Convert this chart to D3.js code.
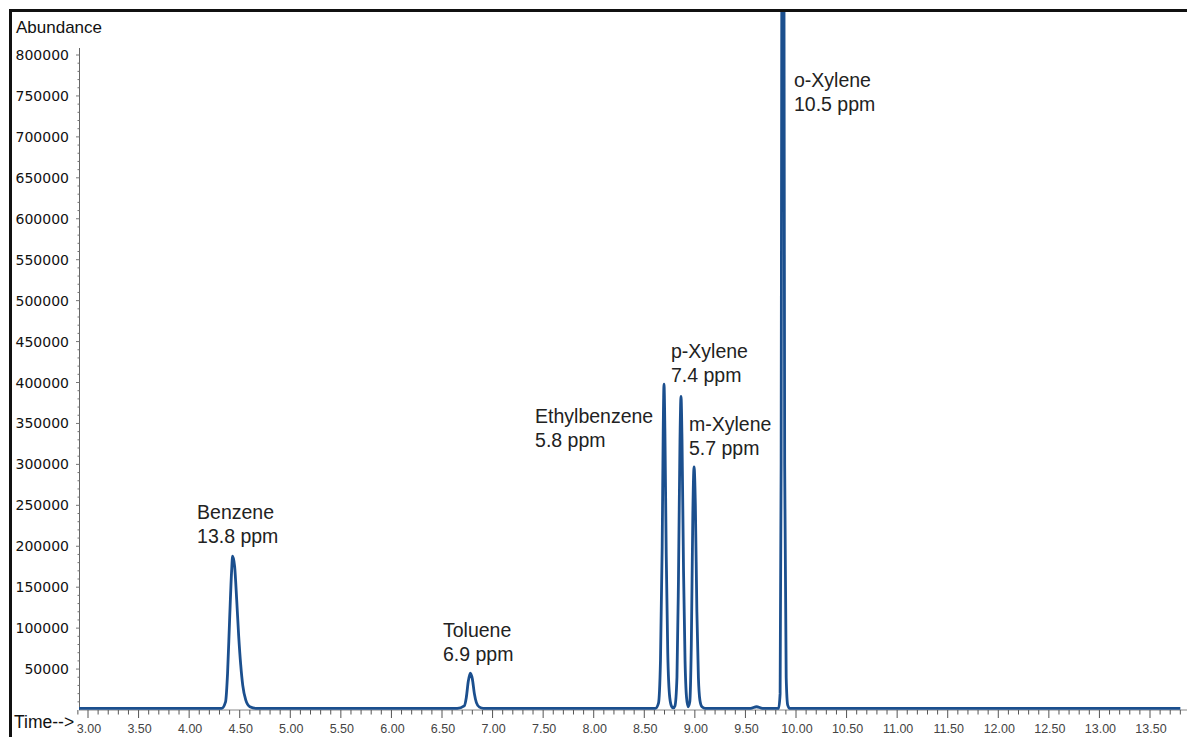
<!DOCTYPE html>
<html>
<head>
<meta charset="utf-8">
<script src="https://cdn.jsdelivr.net/npm/d3@7"></script>
<style>
  body { margin: 0; background: #fff; }
  svg { display: block; }
</style>
</head>
<body>
<script>
// chromatogram: retention time (min) and abundance
const times = [
  2.91, 4.00, 4.32, 4.36, 4.38, 4.40, 4.42, 4.43, 4.45, 4.47, 4.49, 4.51, 4.53, 4.56, 4.60, 4.66,
  6.65, 6.72, 6.74, 6.76, 6.78, 6.80, 6.82, 6.84, 6.87, 6.91,
  8.61, 8.64, 8.66, 8.677, 8.687, 8.695, 8.704, 8.717, 8.732, 8.752, 8.772, 8.787,
  8.803, 8.823, 8.838, 8.853, 8.863, 8.873, 8.888, 8.903, 8.918, 8.933,
  8.95, 8.965, 8.98, 8.992, 9.005, 9.02, 9.035, 9.05, 9.07, 9.105,
  9.55, 9.61, 9.67,
  9.828, 9.843, 9.853, 9.863, 9.870, 9.878, 9.888, 9.903, 9.918, 9.938,
  13.80
]
const abundance = [
  2000, 2000, 2000, 10000, 45000, 110000, 170000, 188000, 175000, 135000, 90000, 55000, 30000, 12000, 4000, 2000,
  2000, 5000, 15000, 35000, 45000, 38000, 20000, 9000, 3500, 2000,
  2000, 8000, 60000, 200000, 340000, 398000, 340000, 190000, 70000, 15000, 4000, 2500,
  5000, 40000, 160000, 330000, 383000, 330000, 170000, 60000, 15000, 4000,
  10000, 80000, 240000, 297000, 250000, 120000, 40000, 12000, 4000, 2000,
  2000, 4000, 2000,
  2000, 20000, 300000, 1200000, 1500000, 1200000, 300000, 40000, 6000, 2000,
  2000
]

// peak annotations
const peakNames = ["Benzene", "Toluene", "Ethylbenzene", "p-Xylene", "m-Xylene", "o-Xylene"]
const peakConc = ["13.8 ppm", "6.9 ppm", "5.8 ppm", "7.4 ppm", "5.7 ppm", "10.5 ppm"]
const labelTime = [4.078, 6.51, 7.42, 8.764, 8.942, 9.98]
const labelAbund = [233000, 89000, 350000, 430000, 341000, 761000]

const yTicks = d3.range(50000, 800001, 50000)
const xTicks = d3.range(3, 13.51, 0.5)

const W = 1187, H = 737
const svg = d3.select("body").append("svg")
    .attr("width", W)
    .attr("height", H)

const x = d3.scaleLinear().domain([3, 13.5]).range([88, 1150])
const y = d3.scaleLinear().domain([0, 800000]).range([710, 55])

svg.append("defs").append("clipPath").attr("id", "plot")
  .append("rect").attr("x", 79).attr("y", 12).attr("width", W - 79).attr("height", 700)

// x axis line (grey) and ticks
svg.append("line")
    .attr("x1", 79).attr("x2", W)
    .attr("y1", 710).attr("y2", 710)
    .attr("stroke", "#888").attr("stroke-width", 1)

const minor = d3.range(2.9, 13.91, 0.1).filter(t => Math.abs(t * 2 - Math.round(t * 2)) > 0.01)
svg.append("g").selectAll("line")
  .data(minor)
  .enter().append("line")
    .attr("x1", d => x(d)).attr("x2", d => x(d))
    .attr("y1", 710).attr("y2", 714.5)
    .attr("stroke", "#555")

svg.append("g").selectAll("line")
  .data(xTicks)
  .enter().append("line")
    .attr("x1", d => x(d)).attr("x2", d => x(d))
    .attr("y1", 710).attr("y2", 718)
    .attr("stroke", "#555")

svg.append("g").selectAll("text")
  .data(xTicks)
  .enter().append("text")
    .attr("x", d => x(d) + 1)
    .attr("y", 733)
    .attr("text-anchor", "middle")
    .attr("font-family", "Liberation Sans, Arial, sans-serif")
    .attr("font-size", 12.5)
    .attr("fill", "#444")
    .text(d => d.toFixed(2))

// y axis
svg.append("line")
    .attr("x1", 79.5).attr("x2", 79.5)
    .attr("y1", 48).attr("y2", 710)
    .attr("stroke", "#666")

svg.append("g").selectAll("line")
  .data(d3.range(10000, 800001, 10000))
  .enter().append("line")
    .attr("x1", d => d % 50000 == 0 ? 76 : 77.5).attr("x2", 79.5)
    .attr("y1", d => y(d)).attr("y2", d => y(d))
    .attr("stroke", "#777")

svg.append("g").selectAll("text")
  .data(yTicks)
  .enter().append("text")
    .attr("x", 69)
    .attr("y", d => y(d) + 5)
    .attr("text-anchor", "end")
    .attr("font-family", "DejaVu Sans, Verdana, sans-serif")
    .attr("font-size", 14)
    .attr("fill", "#111")
    .text(d => d)

svg.append("text")
    .attr("x", 16).attr("y", 33)
    .attr("font-family", "Liberation Sans, Arial, sans-serif")
    .attr("font-size", 17)
    .attr("fill", "#111")
    .text("Abundance")

svg.append("text")
    .attr("x", 14).attr("y", 728)
    .attr("font-family", "Liberation Sans, Arial, sans-serif")
    .attr("font-size", 17.5)
    .attr("fill", "#111")
    .text("Time-->")

// the trace
const pts = times.map((t, i) => [t, abundance[i]])
const line = d3.line()
    .x(d => x(d[0]))
    .y(d => y(d[1]))
    .curve(d3.curveMonotoneX)

svg.append("path")
    .datum(pts)
    .attr("clip-path", "url(#plot)")
    .attr("fill", "none")
    .attr("stroke", "#1b4f8e")
    .attr("stroke-width", 2.8)
    .attr("stroke-linejoin", "round")
    .attr("d", line)

// peak labels
const lab = svg.append("g")
    .attr("font-family", "Liberation Sans, Arial, sans-serif")
    .attr("font-size", 19.5)
    .attr("fill", "#222")
peakNames.forEach((n, i) => {
    const t = lab.append("text")
        .attr("x", x(labelTime[i]))
        .attr("y", y(labelAbund[i]))
    t.append("tspan").text(n)
    t.append("tspan").attr("x", x(labelTime[i])).attr("dy", 24).text(peakConc[i])
})

// black frame on left and top
svg.append("path")
    .attr("d", "M10.5," + H + "V10.5H" + W)
    .attr("fill", "none")
    .attr("stroke", "#111")
    .attr("stroke-width", 3)
</script>
</body>
</html>
